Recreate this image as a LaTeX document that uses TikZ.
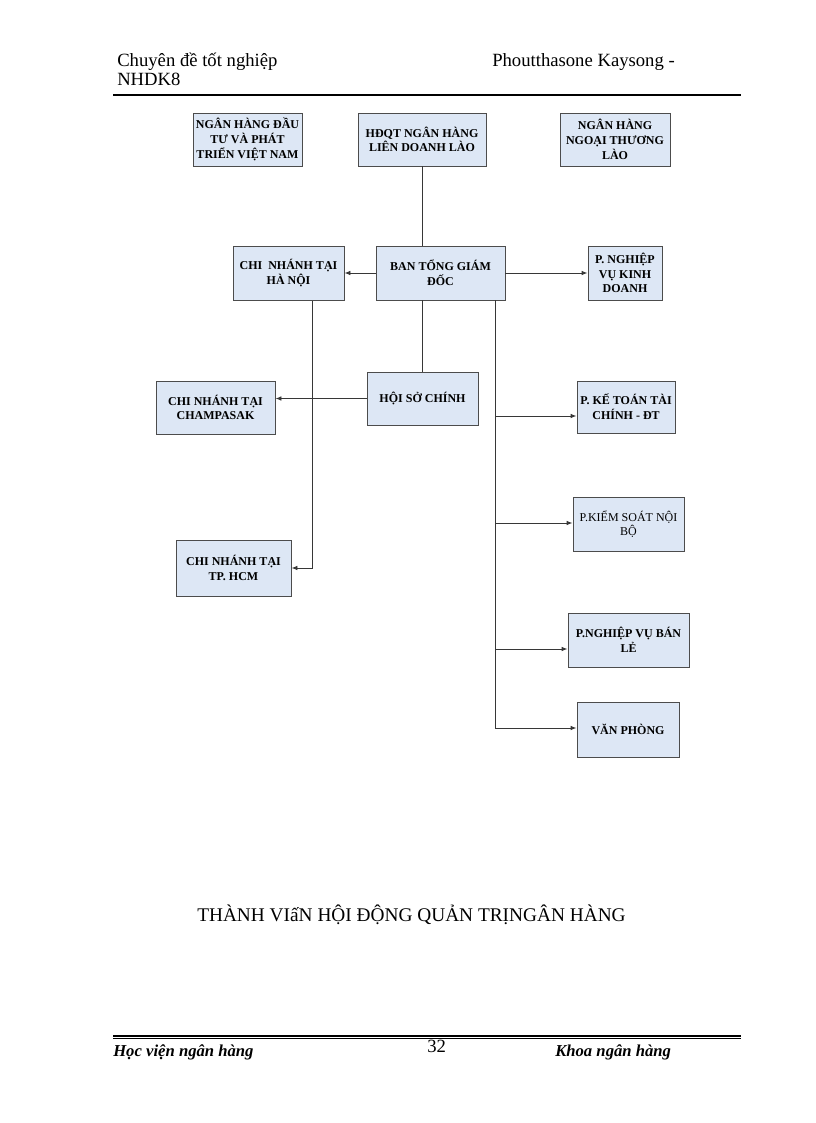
\documentclass[tikz,border=0pt]{standalone}
\usepackage{fontspec}
\setmainfont{Liberation Serif}
\usetikzlibrary{positioning}
\usetikzlibrary{shapes,shadows,arrows.meta}
\definecolor{boxblue}{RGB}{221,231,245}
\definecolor{linegray}{RGB}{55,55,55}

\begin{document}
\begin{tikzpicture}[x=0.75pt,y=-0.75pt,
  box/.style={draw=black!70,line width=0.7pt,fill=boxblue,align=center,inner sep=1pt,
    font=\fontsize{9}{11}\selectfont\bfseries},
  thin box/.style={box,font=\fontsize{9}{11}\selectfont},
  conn/.style={draw=linegray,line width=0.7pt},
  arr/.style={conn,-{Latex[length=4.5pt,width=3.5pt]}}]

  \fill[white] (0,0) rectangle (816,1123);
  \useasboundingbox (0,0) rectangle (816,1123);

  % page header
  \node[anchor=base west,inner sep=0,font=\fontsize{14}{16}\selectfont] (hdrtitle) at (117,67) {Chuyên đề tốt nghiệp};
  \node[anchor=base west,inner sep=0,font=\fontsize{14}{16}\selectfont] (hdrclass) at (117,86) {NHDK8};
  \node[anchor=base west,inner sep=0,font=\fontsize{14}{16}\selectfont] (hdrname) at (492,67) {Phoutthasone Kaysong -};
  \draw[line width=1.5pt] (113,95) -- (741,95);

  % top row
  \node[box,minimum width=81.75pt,minimum height=39.75pt] (bidv) at (247.5,139.5) {NGÂN HÀNG ĐẦU\\TƯ VÀ PHÁT\\TRIỂN VIỆT NAM};
  \node[box,minimum width=96pt,minimum height=39.75pt] (hdqt) at (422,139.5) {HĐQT NGÂN HÀNG\\LIÊN DOANH LÀO};
  \node[box,minimum width=82.5pt,minimum height=39.75pt] (bcel) at (615,139.5) {NGÂN HÀNG\\NGOẠI THƯƠNG\\LÀO};

  % second row
  \node[box,minimum width=96.75pt,minimum height=40.5pt] (btgd) at (440.5,273) {BAN TỔNG GIÁM\\ĐỐC};
  \node[box,minimum width=83.25pt,minimum height=40.5pt] (hanoi) at (288.5,273) {CHI~ NHÁNH TẠI\\HÀ NỘI};
  \node[box,minimum width=55.5pt,minimum height=40.5pt] (nvkd) at (625,273) {P. NGHIỆP\\VỤ KINH\\DOANH};

  % head office and branches
  \node[box,minimum width=83.25pt,minimum height=39.75pt] (hoiso) at (422.5,398.5) {HỘI SỞ CHÍNH};
  \node[box,minimum width=89.25pt,minimum height=39.75pt] (champa) at (215.5,407.5) {CHI NHÁNH TẠI\\CHAMPASAK};
  \node[box,minimum width=86.25pt,minimum height=42pt] (hcm) at (233.5,568) {CHI NHÁNH TẠI\\TP. HCM};

  % departments
  \node[box,minimum width=73.5pt,minimum height=39pt] (ketoan) at (626,407) {P. KẾ TOÁN TÀI\\CHÍNH - ĐT};
  \node[thin box,minimum width=83.25pt,minimum height=40.5pt] (kiemsoat) at (628.5,524) {P.KIỂM SOÁT NỘI\\BỘ};
  \node[box,minimum width=90.75pt,minimum height=40.5pt] (banle) at (628.5,640) {P.NGHIỆP VỤ BÁN\\LẺ};
  \node[box,minimum width=76.5pt,minimum height=41.25pt] (vanphong) at (628,729.5) {VĂN PHÒNG};

  % connectors
  \draw[conn] (hdqt.south) -- (hdqt.south |- btgd.north);
  \draw[conn] (hoiso.north |- btgd.south) -- (hoiso.north);
  \draw[arr] (btgd.west) -- (hanoi.east);
  \draw[arr] (btgd.east) -- (nvkd.west);
  \draw[arr] (hoiso.west) -- (hoiso.west -| champa.east);

  \coordinate (hnfoot) at (312,301);
  \draw[arr] (hnfoot) |- (hcm.east);

  \coordinate (trunktop) at (495,300);
  \coordinate (kt) at (495,416);
  \coordinate (ks) at (495,523);
  \coordinate (bl) at (495,649);
  \coordinate (trunkend) at (495,728);
  \draw[conn] (trunktop) -- (trunkend);
  \draw[arr] (kt) -- (kt -| ketoan.west);
  \draw[arr] (ks) -- (ks -| kiemsoat.west);
  \draw[arr] (bl) -- (bl -| banle.west);
  \draw[arr] (trunkend) -- (trunkend -| vanphong.west);

  % caption
  \node[anchor=base,inner sep=0,font=\fontsize{14.5}{16}\selectfont] (caption) at (411.5,921) {THÀNH VIấN HỘI ĐỘNG QUẢN TRỊNGÂN HÀNG};

  % page footer
  \draw[line width=1.5pt] (113,1035.5) -- (741,1035.5);
  \draw[line width=0.5pt] (113,1038.5) -- (741,1038.5);
  \node[anchor=base west,inner sep=0,font=\fontsize{12.5}{14}\selectfont\bfseries\itshape] (ftrleft) at (113,1056) {Học viện ngân hàng};
  \node[anchor=base west,inner sep=0,font=\fontsize{14}{16}\selectfont] (ftrpage) at (427,1052) {32};
  \node[anchor=base west,inner sep=0,font=\fontsize{12.5}{14}\selectfont\bfseries\itshape] (ftrright) at (555,1056) {Khoa ngân hàng};
\end{tikzpicture}
\end{document}
